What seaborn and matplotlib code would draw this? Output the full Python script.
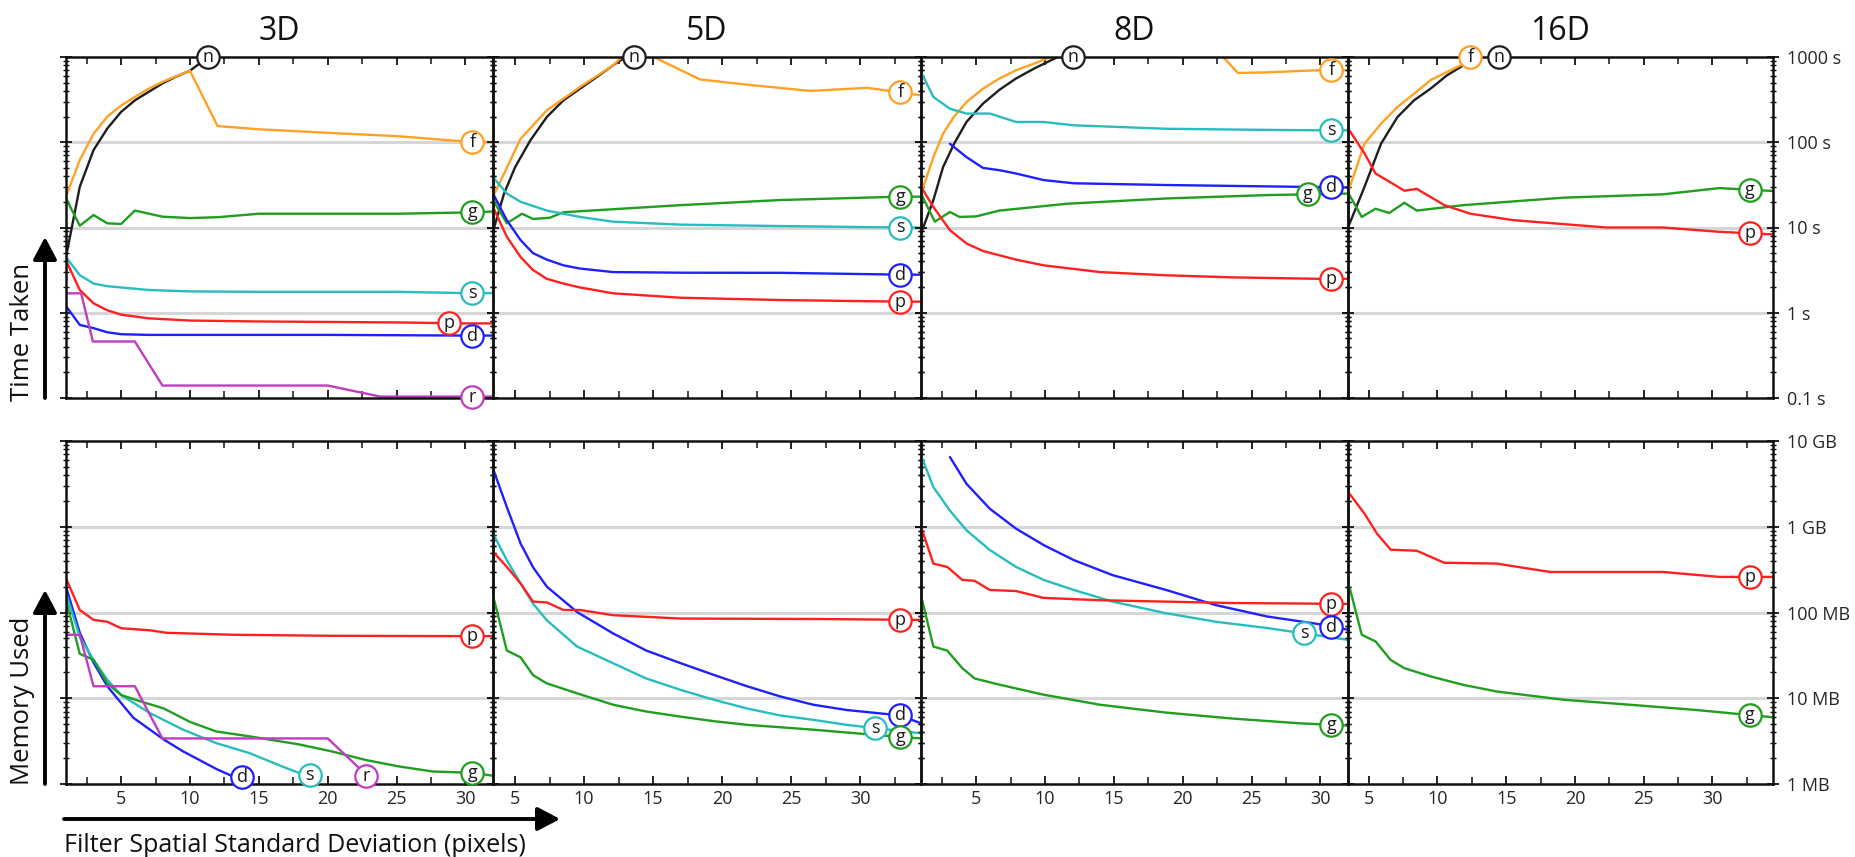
import numpy as np
import pandas as pd
import matplotlib
matplotlib.use("Agg")
import matplotlib.pyplot as plt
import seaborn as sns
from matplotlib.patches import FancyArrowPatch
from matplotlib.ticker import LogLocator, NullFormatter, FixedLocator

# ---------------- data ----------------
PANELS = ["3D", "5D", "8D", "16D"]
XLIMS = [(1, 32), (3.4, 34.4), (1, 32), (3.5, 34.4)]

COLORS = {"n": "#1e1e1e", "f": "#ffa124", "g": "#1f9e1f", "s": "#27bdbd",
          "p": "#ff2020", "d": "#2020ff", "r": "#c03cc0"}

# Time taken (seconds)
TIME_3D = {
    "n": ([1, 2, 3, 4, 5, 6, 7, 8, 9, 10, 11.5], [4.5, 30, 81, 145, 227, 310, 390, 490, 590, 690, 1050]),
    "f": ([1, 2, 3, 4, 5, 6, 7, 8, 9, 10, 12, 15, 20, 25, 30, 32],
          [23, 62, 126, 200, 270, 340, 425, 510, 595, 690, 155, 142, 129, 118, 102, 100]),
    "g": ([1, 2, 3, 4, 5, 6, 8, 10, 12, 15, 20, 25, 30, 32],
          [22, 10.5, 14, 11.2, 11, 15.8, 13.4, 12.9, 13.2, 14.5, 14.5, 14.5, 15, 15.4]),
    "s": ([1, 2, 3, 4, 5, 7, 10, 15, 20, 25, 30, 32],
          [4.5, 2.76, 2.2, 2.05, 1.98, 1.85, 1.78, 1.76, 1.76, 1.76, 1.7, 1.7]),
    "p": ([1, 2, 3, 4, 5, 7, 10, 15, 20, 25, 30, 32],
          [4.1, 1.85, 1.29, 1.07, 0.95, 0.86, 0.81, 0.79, 0.78, 0.77, 0.75, 0.75]),
    "d": ([1, 2, 3, 4, 5, 7, 10, 20, 30, 32], [1.2, 0.72, 0.66, 0.59, 0.56, 0.55, 0.55, 0.55, 0.54, 0.54]),
    "r": ([1, 2.1, 2.95, 6, 8, 20, 23.8, 32], [1.69, 1.69, 0.46, 0.46, 0.14, 0.14, 0.104, 0.104]),
}
TIME_5D = {
    "n": ([3.4, 4.2, 5, 6.1, 7.3, 8.5, 9.7, 10.9, 12.1, 13.2], [9, 25, 51, 105, 198, 310, 425, 580, 800, 1050]),
    "f": ([3.4, 5.4, 7.3, 9.7, 12.1, 13, 14.5, 18.4, 22, 26.4, 30.5, 34.4],
          [23, 110, 237, 445, 800, 1100, 1100, 545, 470, 400, 435, 355]),
    "g": ([3.4, 4.4, 5.5, 6.3, 7.5, 8.5, 17, 24.2, 32.9, 34.4], [21, 11.2, 14.5, 12.6, 13, 15.1, 18.3, 21, 23, 23]),
    "s": ([3.4, 4.4, 5.4, 7.3, 9.7, 12.1, 17, 24.2, 32.9, 34.4], [39, 25, 20, 15.8, 13.3, 11.7, 10.8, 10.4, 10, 10]),
    "d": ([3.4, 4.4, 5.4, 6.3, 7.3, 8.5, 9.7, 12.1, 17, 24.2, 32.9, 34.4],
          [25, 12.2, 7.1, 5.0, 4.2, 3.6, 3.3, 3.0, 2.95, 2.94, 2.8, 2.8]),
    "p": ([3.4, 4.4, 5.4, 6.3, 7.3, 8.5, 9.7, 12.1, 17, 24.2, 32.9, 34.4],
          [17.4, 7.8, 4.5, 3.17, 2.5, 2.2, 1.98, 1.69, 1.5, 1.41, 1.35, 1.35]),
}
TIME_8D = {
    "n": ([1, 1.9, 2.6, 3.4, 4.3, 5.5, 6.7, 7.9, 9.2, 10.4, 11.5],
          [8.5, 21, 51, 96, 173, 284, 413, 560, 730, 910, 1100]),
    "f": ([1, 1.9, 2.6, 3.4, 4.3, 5.5, 6.7, 7.9, 9.2, 10.4, 11.5, 22.3, 24, 26, 29.9, 32],
          [25, 67, 126, 200, 296, 425, 560, 700, 835, 1000, 1300, 1300, 650, 660, 700, 700]),
    "s": ([1, 1.9, 3.1, 4.3, 6.0, 7.9, 9.9, 12.1, 18.8, 23.6, 29.9, 32],
          [667, 340, 247, 217, 217, 173, 173, 158, 144, 141, 138, 138]),
    "d": ([3.1, 4.3, 5.5, 6.7, 7.9, 9.9, 12.1, 18.8, 28.5, 32], [96, 67, 50, 47, 43, 36, 33, 31.5, 30, 29.5]),
    "g": ([1, 2, 3.1, 3.8, 5, 6.7, 11.6, 18.8, 26.1, 32], [25, 11.7, 15.2, 13.3, 13.5, 15.8, 19, 21.9, 24, 25]),
    "p": ([1, 1.9, 3.1, 4.3, 5.5, 7.9, 9.9, 14, 18.8, 23.6, 29.9, 32],
          [30, 17.4, 9.3, 6.5, 5.3, 4.2, 3.6, 3.0, 2.75, 2.6, 2.5, 2.5]),
}
TIME_16D = {
    "n": ([3.5, 4.7, 5.9, 7.1, 8.3, 9.5, 10.7, 11.9, 13.5], [10, 30, 96, 198, 310, 425, 610, 800, 1050]),
    "f": ([3.5, 4.7, 5.9, 7.1, 8.3, 9.5, 10.7, 11.7, 12.6], [26, 96, 165, 260, 370, 535, 667, 800, 1050]),
    "g": ([3.5, 4.5, 5.5, 6.5, 7.6, 8.5, 11.9, 19.2, 26.4, 30.5, 34.4],
          [25.8, 13.3, 16.6, 14.8, 19.5, 15.8, 18.3, 22.4, 24.5, 29, 26.8]),
    "p": ([3.6, 4.7, 5.5, 6.5, 7.6, 8.5, 10.5, 12.4, 15.5, 22.3, 26.4, 30.5, 34.4],
          [138, 74, 43, 34.5, 27, 28.4, 18.3, 14.5, 12.2, 10, 10, 8.9, 8.3]),
}

# Memory used (MB)
MEM_3D = {
    "p": ([1, 2, 3, 4, 5, 7.1, 8.3, 13.1, 20.3, 30.5, 32], [250, 107, 82, 78, 65.5, 62, 58, 55, 53.5, 53, 53]),
    "d": ([1, 2, 3, 4, 5, 5.9, 7.1, 8.1, 9.5, 10.7, 11.9, 13.1, 13.8],
          [200, 58, 26, 13.8, 8.8, 5.9, 4.3, 3.3, 2.4, 1.9, 1.5, 1.23, 1.2]),
    "s": ([1, 2, 3, 4, 5, 7.1, 9.5, 11.9, 14.3, 16.7, 17.9, 18.7],
          [167, 52, 28, 16.4, 10.9, 6.7, 4.3, 3.0, 2.3, 1.6, 1.35, 1.28]),
    "g": ([1, 2, 3, 4, 5, 6.4, 8.1, 10, 11.9, 14.3, 17.9, 20.3, 22.8, 25.2, 27.6, 30.5, 32],
          [140, 33, 28, 14.9, 10.9, 9.2, 7.6, 5.3, 4.1, 3.6, 2.9, 2.4, 1.9, 1.6, 1.4, 1.35, 1.25]),
    "r": ([1, 2, 3, 6, 8, 20, 22.2, 22.8], [55, 55, 13.8, 13.8, 3.4, 3.4, 1.58, 1.25]),
}
MEM_5D = {
    "d": ([3.4, 4.4, 5.4, 6.3, 7.3, 9.5, 12.1, 14.5, 17, 19.4, 21.8, 24.2, 26.6, 29, 32.9, 34.4],
          [4750, 1700, 636, 337, 200, 101, 57, 36, 25.6, 18.7, 13.8, 10.5, 8.4, 7.3, 6.3, 5.1]),
    "s": ([3.4, 4.4, 5.4, 6.3, 7.3, 9.5, 12.1, 14.5, 17, 19.4, 21.8, 24.2, 26.6, 29, 34.4],
          [835, 408, 218, 127, 81, 40, 25.6, 17, 12.5, 9.6, 7.6, 6.3, 5.6, 4.9, 3.9]),
    "p": ([3.4, 4.4, 5.4, 6.3, 7.3, 8.5, 9.7, 12.1, 17, 26.6, 34.4], [513, 340, 218, 134, 131, 107, 107, 93, 85, 84, 82]),
    "g": ([3.4, 4.4, 5.4, 6.3, 7.3, 9.5, 12.1, 14.5, 17, 19.4, 21.8, 26.6, 31.4, 34.4],
          [158, 36, 30, 18.6, 14.9, 11.4, 8.4, 7.0, 6.1, 5.4, 4.9, 4.3, 3.7, 3.4]),
}
MEM_8D = {
    "d": ([3.1, 4.3, 6.0, 7.9, 9.9, 12.1, 14.9, 18.8, 22.4, 26.1, 29.7, 32],
          [6500, 3170, 1620, 950, 612, 408, 273, 183, 122, 90, 74, 63]),
    "s": ([1, 1.9, 3.1, 4.3, 6.0, 7.9, 9.9, 12.1, 14.9, 18.8, 22.4, 26.1, 28.8, 32],
          [6800, 2900, 1540, 910, 535, 340, 240, 183, 134, 98, 78, 66, 57, 48]),
    "p": ([1, 1.9, 2.9, 4.0, 4.9, 6.0, 7.9, 9.9, 14, 23.6, 32], [1000, 372, 340, 240, 234, 183, 178, 148, 139, 129, 126]),
    "g": ([1, 1.9, 2.9, 4.0, 4.9, 6.7, 9.9, 14, 18.8, 23.6, 28.5, 32],
          [158, 40, 36, 22.4, 17, 14.4, 11, 8.4, 6.8, 5.8, 5.1, 4.8]),
}
MEM_16D = {
    "p": ([3.6, 4.7, 5.6, 6.6, 8.5, 10.5, 14.3, 18.2, 26.4, 30.5, 34.4],
          [2440, 1420, 835, 540, 525, 380, 372, 297, 297, 260, 260]),
    "g": ([3.6, 4.5, 5.5, 6.6, 7.6, 9.5, 11.9, 14.3, 19.2, 24, 28.8, 34.4],
          [200, 55, 46, 28, 22.4, 18, 14.3, 12, 9.6, 8.4, 7.3, 6.0]),
}

# x positions of the circled series letters
LABELS_TIME = [
    {"n": 11.3, "f": 30.5, "g": 30.5, "s": 30.5, "p": 28.8, "d": 30.5, "r": 30.5},
    {"n": 13.6, "f": 32.9, "g": 32.9, "s": 32.9, "d": 32.9, "p": 32.9},
    {"n": 12.0, "f": 30.8, "s": 30.8, "d": 30.8, "g": 29.1, "p": 30.8},
    {"f": 12.4, "n": 14.5, "g": 32.7, "p": 32.7},
]
LABELS_MEM = [
    {"p": 30.5, "d": 13.8, "s": 18.7, "r": 22.8, "g": 30.5},
    {"d": 32.9, "s": 31.1, "p": 32.9, "g": 32.9},
    {"p": 30.8, "d": 30.8, "s": 28.8, "g": 30.8},
    {"p": 32.7, "g": 32.7},
]

TIME_TICKS = [0.1, 1, 10, 100, 1000]
TIME_TICK_LABELS = ["0.1 s", "1 s", "10 s", "100 s", "1000 s"]
MEM_TICKS = [1, 10, 100, 1000, 10000]
MEM_TICK_LABELS = ["1 MB", "10 MB", "100 MB", "1 GB", "10 GB"]
X_TICKS = [5, 10, 15, 20, 25, 30]

TIME_PANELS = [TIME_3D, TIME_5D, TIME_8D, TIME_16D]
MEM_PANELS = [MEM_3D, MEM_5D, MEM_8D, MEM_16D]

# ---------------- style ----------------
sns.set_theme(style="white")
FONT = ["Open Sans", "DejaVu Sans"]
plt.rcParams["font.family"] = FONT

W, H = 1855, 857
fig = plt.figure(figsize=(W / 100, H / 100), dpi=100)

LEFTS = [66, 493, 921, 1348]
RIGHT = 1773
ROWS = [(57, 398), (441, 784)]


def to_df(series):
    rows = []
    for key, (xs, ys) in series.items():
        for x, y in zip(xs, ys):
            rows.append((key, x, y))
    return pd.DataFrame(rows, columns=["series", "sigma", "value"])


def style_axis(ax, ylim, yticks, yticklabels, xlim, bottom_row, last):
    ax.set_yscale("log")
    ax.set_ylim(*ylim)
    ax.set_xlim(*xlim)
    ax.set_facecolor("none")
    ax.set_xlabel("")
    ax.set_ylabel("")
    for sp in ax.spines.values():
        sp.set_visible(True)
        sp.set_color("#111111")
        sp.set_linewidth(1.8)
    ax.yaxis.set_major_locator(FixedLocator(yticks))
    ax.yaxis.set_minor_locator(LogLocator(base=10, subs=np.arange(2, 10)))
    ax.yaxis.set_minor_formatter(NullFormatter())
    ax.set_yticks(yticks)
    ax.set_yticklabels(yticklabels)
    ax.tick_params(axis="y", which="major", direction="inout", length=8, width=1.3,
                   left=True, right=True, color="#111111",
                   labelleft=False, labelright=last, labelsize=13, pad=6)
    ax.tick_params(axis="y", which="minor", direction="inout", length=5, width=1.0,
                   left=True, right=True, color="#111111")
    ax.xaxis.set_major_locator(FixedLocator(X_TICKS))
    ax.xaxis.set_minor_locator(FixedLocator([2.5, 7.5, 12.5, 17.5, 22.5, 27.5, 32.5]))
    ax.tick_params(axis="x", which="major", direction="in", length=6, width=1.3,
                   top=True, bottom=True, color="#111111",
                   labelbottom=bottom_row, labelsize=13, pad=4)
    ax.tick_params(axis="x", which="minor", direction="in", length=5, width=1.1,
                   top=True, bottom=True, color="#111111")
    ax.grid(False)
    for t in yticks[1:-1]:
        ax.axhline(t, color="#d6d6d6", lw=2.2, zorder=0)


def draw_labels(ax, series, labels, ymax):
    for key, lx in labels.items():
        xs, ys = series[key]
        ly = 10 ** np.interp(lx, xs, np.log10(ys))
        ly = min(ly, ymax)
        ax.scatter([lx], [ly], s=260, facecolor="white", edgecolor=COLORS[key],
                   linewidth=1.6, zorder=10, clip_on=False)
        ax.text(lx, ly, key, ha="center", va="center", fontsize=13, color="#1a1a1a",
                zorder=11, clip_on=False, family=FONT)


for row, (panels, labels, ylim, yticks, yticklabels) in enumerate([
        (TIME_PANELS, LABELS_TIME, (0.1, 1000), TIME_TICKS, TIME_TICK_LABELS),
        (MEM_PANELS, LABELS_MEM, (1, 10000), MEM_TICKS, MEM_TICK_LABELS)]):
    top, bot = ROWS[row]
    for i in range(4):
        left = LEFTS[i]
        right = LEFTS[i + 1] if i < 3 else RIGHT
        ax = fig.add_axes([left / W, 1 - bot / H, (right - left) / W, (bot - top) / H])
        df = to_df(panels[i])
        sns.lineplot(data=df, x="sigma", y="value", hue="series", palette=COLORS,
                     estimator=None, sort=False, legend=False, linewidth=1.7, ax=ax)
        style_axis(ax, ylim, yticks, yticklabels, XLIMS[i], row == 1, i == 3)
        draw_labels(ax, panels[i], labels[i], ylim[1])
        if row == 0:
            ax.set_title(PANELS[i], fontsize=23, pad=12, color="#111111", family=FONT)

# axis labels with arrows
fig.text(23 / W, 1 - 332 / H, "Time Taken", rotation=90, ha="center", va="center",
         fontsize=18.5, color="#111111")
fig.text(23 / W, 1 - 701 / H, "Memory Used", rotation=90, ha="center", va="center",
         fontsize=18.5, color="#111111")
fig.text(64 / W, 1 - 845 / H, "Filter Spatial Standard Deviation (pixels)", ha="left",
         va="center", fontsize=18, color="#111111")


def fig_arrow(x0, y0, x1, y1):
    fig.add_artist(FancyArrowPatch(posA=(x0 / W, 1 - y0 / H), posB=(x1 / W, 1 - y1 / H),
                                   transform=fig.transFigure,
                                   arrowstyle="-|>,head_length=0.85,head_width=0.45",
                                   mutation_scale=16, lw=2.8, color="black",
                                   shrinkA=0, shrinkB=0))


fig_arrow(45, 398, 45, 237)
fig_arrow(45, 784, 45, 590)
fig_arrow(64, 819, 560, 819)

fig.savefig("out.png", dpi=100)
